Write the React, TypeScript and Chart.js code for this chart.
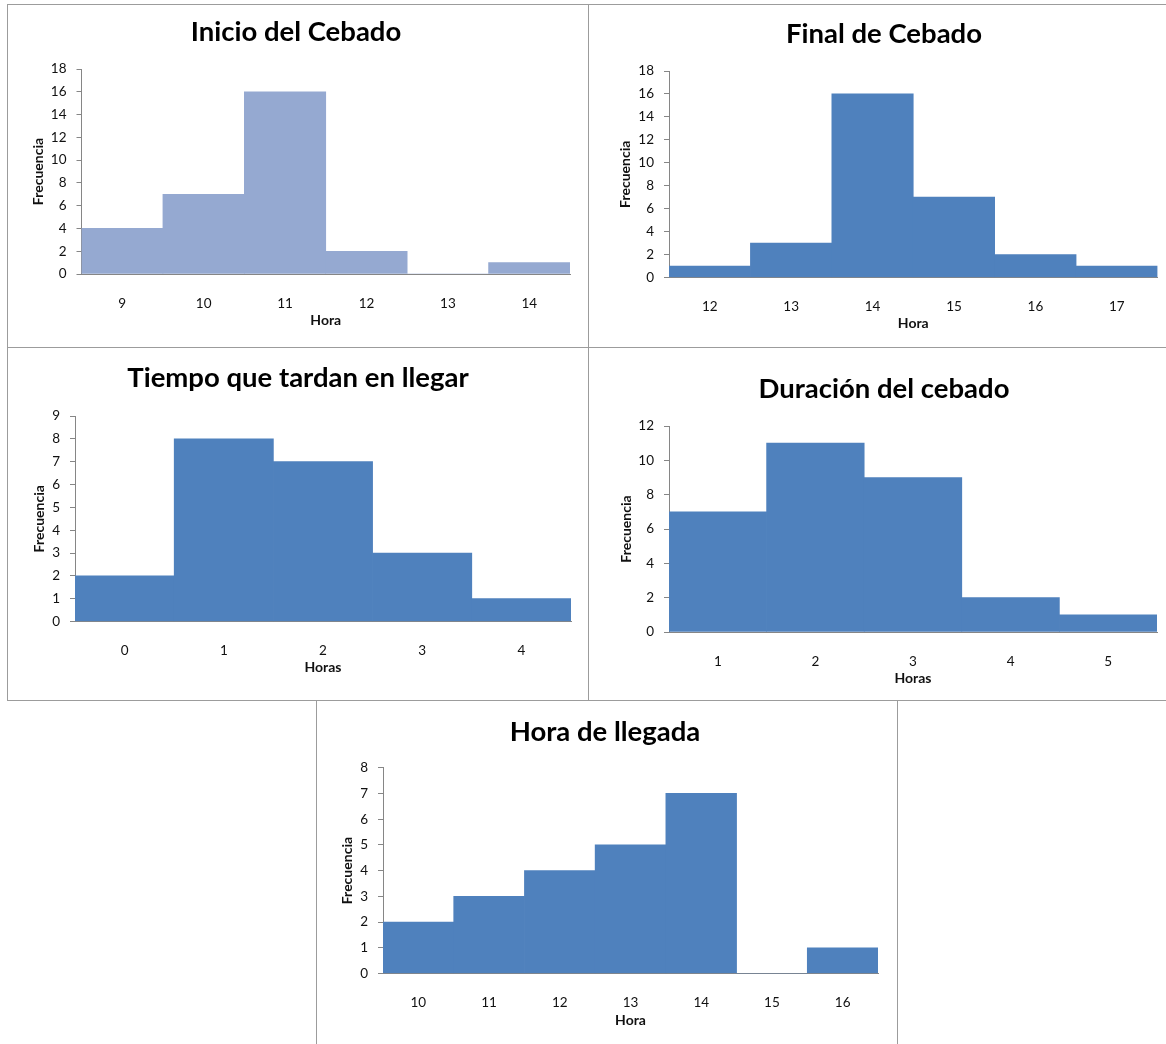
import { useEffect, useRef } from "react";
import { Chart, registerables } from "chart.js";

Chart.register(...registerables);

// Frecuencias por hora (histogramas)
const inicioHoras = ["9", "10", "11", "12", "13", "14"];
const inicioFrecuencia = [4, 7, 16, 2, 0, 1];

const finalHoras = ["12", "13", "14", "15", "16", "17"];
const finalFrecuencia = [1, 3, 16, 7, 2, 1];

const tiempoHoras = ["0", "1", "2", "3", "4"];
const tiempoFrecuencia = [2, 8, 7, 3, 1];

const duracionHoras = ["1", "2", "3", "4", "5"];
const duracionFrecuencia = [7, 11, 9, 2, 1];

const llegadaHoras = ["10", "11", "12", "13", "14", "15", "16"];
const llegadaFrecuencia = [2, 3, 4, 5, 7, 0, 1];

const FONT = 'Lato, "Open Sans", "Noto Sans", sans-serif';
const TITLE_SIZE = 27.5;
const TICK_SIZE = 13.5;
const AXIS_TITLE_SIZE = 14;
const LINE = 1.2;
const AXIS_GRAY = "#868686";
const FRAME_GRAY = "#9c9c9c";

type Frame = { x: number; y: number; w: number; h: number };
type Layout = {
  frame: Frame;
  canvasW: number;
  canvasH: number;
  plot: { left: number; right: number; top: number; bottom: number };
  titleX: number;
  titleY: number;
  yTitleX: number;
  tickLabelY: number;
  xTitleY: number;
};

type HistogramProps = {
  title: string;
  labels: string[];
  values: number[];
  xTitle: string;
  yMax: number;
  yStep: number;
  color: string;
  layout: Layout;
};

function Histogram({ title, labels, values, xTitle, yMax, yStep, color, layout }: HistogramProps) {
  const ref = useRef<HTMLCanvasElement | null>(null);

  useEffect(() => {
    const canvas = ref.current;
    if (!canvas) return;
    const ox = layout.frame.x + 1;
    const oy = layout.frame.y + 1;
    const plotLeft = layout.plot.left - ox;
    const plotRight = layout.plot.right - ox;
    const plotTop = layout.plot.top - oy;
    const plotBottom = layout.plot.bottom - oy;

    const padLeft = 2 * (layout.titleX - ox) - plotRight;
    const padRight = layout.canvasW - plotRight;
    const titleLine = TITLE_SIZE * LINE;
    const titleTop = layout.titleY - oy - titleLine / 2;
    const titleBottom = plotTop - titleTop - titleLine;
    const axisLine = AXIS_TITLE_SIZE * LINE;
    const yTitlePad = layout.yTitleX - ox - padLeft - axisLine / 2;
    const yWidth = plotLeft - padLeft;
    const xHeight = layout.canvasH - plotBottom;
    const xLabelPad = layout.tickLabelY - layout.plot.bottom - (TICK_SIZE * LINE) / 2;
    const xTitlePad = layout.canvasH - (layout.xTitleY - oy) - axisLine / 2;

    const chart = new Chart(canvas, {
      type: "bar",
      data: {
        labels,
        datasets: [
          {
            data: values,
            backgroundColor: color,
            borderWidth: 0,
            barPercentage: 1,
            categoryPercentage: 1,
          },
        ],
      },
      options: {
        animation: false,
        responsive: false,
        events: [],
        layout: { padding: { left: padLeft, right: padRight, top: 0, bottom: 0 } },
        plugins: {
          legend: { display: false },
          tooltip: { enabled: false },
          title: {
            display: true,
            text: title,
            color: "#000",
            font: { family: FONT, size: TITLE_SIZE, weight: "bold", lineHeight: LINE },
            padding: { top: titleTop, bottom: titleBottom },
          },
        },
        scales: {
          x: {
            type: "category",
            offset: true,
            grid: { display: false },
            border: { display: true, color: AXIS_GRAY, width: 1 },
            ticks: {
              color: "#111",
              padding: xLabelPad,
              maxRotation: 0,
              autoSkip: false,
              font: { family: FONT, size: TICK_SIZE, lineHeight: LINE },
            },
            title: {
              display: true,
              text: xTitle,
              color: "#111",
              font: { family: FONT, size: AXIS_TITLE_SIZE, weight: "bold", lineHeight: LINE },
              padding: { top: 0, bottom: xTitlePad },
            },
            afterFit: (scale: any) => {
              scale.height = xHeight;
            },
          },
          y: {
            type: "linear",
            min: 0,
            max: yMax,
            grid: {
              display: true,
              drawOnChartArea: false,
              drawTicks: true,
              tickLength: 5,
              tickColor: AXIS_GRAY,
            },
            border: { display: true, color: AXIS_GRAY, width: 1 },
            ticks: {
              stepSize: yStep,
              color: "#111",
              padding: 10,
              font: { family: FONT, size: TICK_SIZE, lineHeight: LINE },
            },
            title: {
              display: true,
              text: "Frecuencia",
              color: "#111",
              font: { family: FONT, size: AXIS_TITLE_SIZE, weight: "bold", lineHeight: LINE },
              padding: { top: yTitlePad, bottom: 0 },
            },
            afterFit: (scale: any) => {
              scale.width = yWidth;
            },
          },
        },
      },
    });
    return () => chart.destroy();
  }, [title, labels, values, xTitle, yMax, yStep, color, layout]);

  return (
    <div
      style={{
        position: "absolute",
        left: layout.frame.x,
        top: layout.frame.y,
        width: layout.frame.w,
        height: layout.frame.h,
        border: `1px solid ${FRAME_GRAY}`,
        boxSizing: "border-box",
        background: "#fff",
      }}
    >
      <canvas
        ref={ref}
        width={layout.canvasW}
        height={layout.canvasH}
        style={{ position: "absolute", left: 0, top: 0, width: layout.canvasW, height: layout.canvasH }}
      />
    </div>
  );
}

const inicioLayout: Layout = {
  frame: { x: 7, y: 4, w: 582, h: 344 },
  canvasW: 580,
  canvasH: 342,
  plot: { left: 81.5, right: 570, top: 69, bottom: 274 },
  titleX: 296,
  titleY: 31.7,
  yTitleX: 38,
  tickLabelY: 295.5,
  xTitleY: 320,
};

const finalLayout: Layout = {
  frame: { x: 588, y: 4, w: 600, h: 344 },
  canvasW: 577,
  canvasH: 342,
  plot: { left: 669, right: 1157.5, top: 71, bottom: 277.5 },
  titleX: 884,
  titleY: 34.3,
  yTitleX: 625,
  tickLabelY: 299,
  xTitleY: 323.3,
};

const tiempoLayout: Layout = {
  frame: { x: 7, y: 347, w: 582, h: 354 },
  canvasW: 580,
  canvasH: 352,
  plot: { left: 75, right: 571, top: 416, bottom: 621.5 },
  titleX: 298,
  titleY: 378.3,
  yTitleX: 39,
  tickLabelY: 642.7,
  xTitleY: 667.3,
};

const duracionLayout: Layout = {
  frame: { x: 588, y: 347, w: 600, h: 354 },
  canvasW: 577,
  canvasH: 352,
  plot: { left: 669, right: 1157, top: 426, bottom: 632 },
  titleX: 884,
  titleY: 389.3,
  yTitleX: 626,
  tickLabelY: 653.7,
  xTitleY: 678.3,
};

const llegadaLayout: Layout = {
  frame: { x: 316, y: 700, w: 582, h: 360 },
  canvasW: 580,
  canvasH: 343,
  plot: { left: 383, right: 878, top: 767.7, bottom: 973.5 },
  titleX: 605,
  titleY: 731.7,
  yTitleX: 347,
  tickLabelY: 995,
  xTitleY: 1020,
};

export default function App() {
  return (
    <div
      style={{
        position: "absolute",
        left: 0,
        top: 0,
        width: 1166,
        height: 1044,
        overflow: "hidden",
        background: "#fff",
      }}
    >
      <Histogram
        title="Inicio del Cebado"
        labels={inicioHoras}
        values={inicioFrecuencia}
        xTitle="Hora"
        yMax={18}
        yStep={2}
        color="#95A9D1"
        layout={inicioLayout}
      />
      <Histogram
        title="Final de Cebado"
        labels={finalHoras}
        values={finalFrecuencia}
        xTitle="Hora"
        yMax={18}
        yStep={2}
        color="#4F81BD"
        layout={finalLayout}
      />
      <Histogram
        title="Tiempo que tardan en llegar"
        labels={tiempoHoras}
        values={tiempoFrecuencia}
        xTitle="Horas"
        yMax={9}
        yStep={1}
        color="#4F81BD"
        layout={tiempoLayout}
      />
      <Histogram
        title="Duración del cebado"
        labels={duracionHoras}
        values={duracionFrecuencia}
        xTitle="Horas"
        yMax={12}
        yStep={2}
        color="#4F81BD"
        layout={duracionLayout}
      />
      <Histogram
        title="Hora de llegada"
        labels={llegadaHoras}
        values={llegadaFrecuencia}
        xTitle="Hora"
        yMax={8}
        yStep={1}
        color="#4F81BD"
        layout={llegadaLayout}
      />
    </div>
  );
}
